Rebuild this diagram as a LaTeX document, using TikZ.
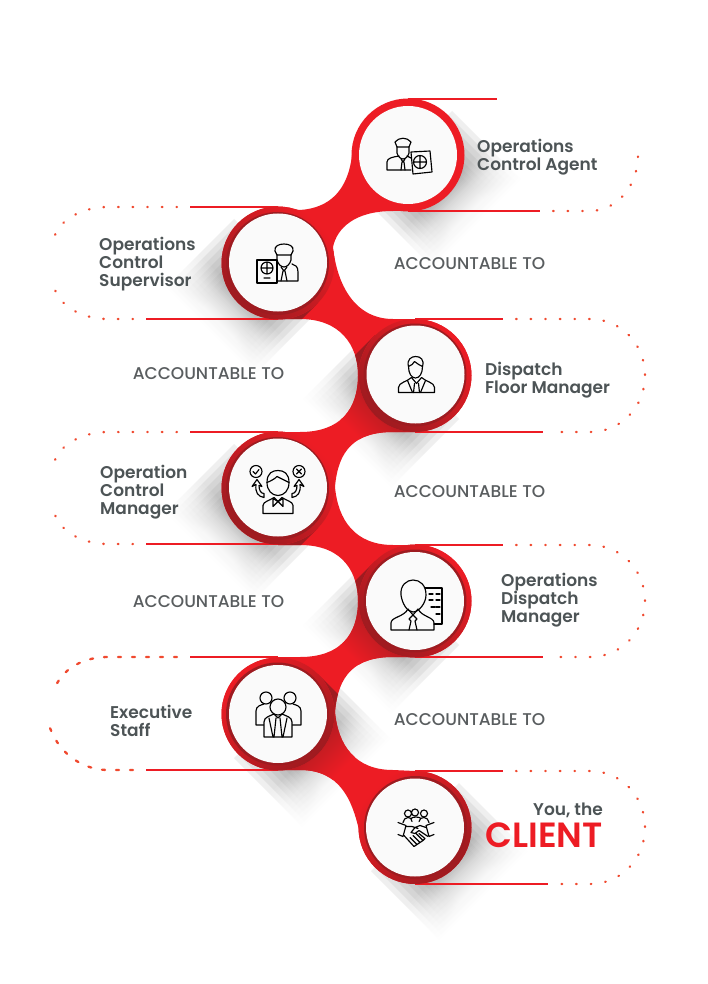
\documentclass[tikz,border=0pt]{standalone}
\usepackage{fontspec}
\setmainfont{Poppins}
\newfontfamily\labelfont{Poppins SemiBold}
\newfontfamily\bayfont{Poppins Medium}
\usetikzlibrary{calc}
\definecolor{RibbonRed}{HTML}{ED1C24}
\definecolor{RibbonDark}{HTML}{9E1B20}
\definecolor{DotRed}{HTML}{F0492F}
\definecolor{LabelGrey}{HTML}{4D5456}
\definecolor{BayGrey}{HTML}{595D5F}
\pgfdeclarehorizontalshading{ShadowStrip}{100bp}{color(0bp)=(black!48); color(50bp)=(black!48); color(57bp)=(black!20); color(66bp)=(white); color(100bp)=(white)}
\pgfdeclarehorizontalshading{DarkStrip}{100bp}{color(0bp)=(RibbonDark); color(44bp)=(RibbonDark); color(65bp)=(RibbonRed); color(100bp)=(RibbonRed)}
\tikzstyle{RingNode}=[circle, fill=RibbonRed, inner sep=0pt, minimum size=113pt]
\tikzstyle{DarkLeftRing}=[RingNode, shade, shading=axis, top color=RibbonRed, bottom color=RibbonDark, shading angle=-45]
\tikzstyle{DarkRightRing}=[RingNode, shade, shading=axis, top color=RibbonRed, bottom color=RibbonDark, shading angle=45]
\tikzstyle{CrescentNode}=[circle, fill=RibbonDark, inner sep=0pt, minimum size=103pt]
\tikzstyle{StationNode}=[circle, fill=black!2, inner sep=0pt, minimum size=98pt]
\tikzstyle{NameNode}=[anchor=west, align=left, inner sep=0pt, text=LabelGrey, font=\labelfont\fontsize{17}{18}\selectfont]
\tikzstyle{BayNode}=[inner sep=0pt, text=BayGrey, font=\bayfont\fontsize{17}{18}\selectfont]
\tikzstyle{RedRule}=[draw=RibbonRed, line width=1.9pt]
\tikzstyle{DotRule}=[draw=DotRed, line width=2.3pt, line cap=round, dash pattern=on 0.6pt off 14pt]
\tikzstyle{IconLine}=[draw=black, line width=1.15pt, line join=round, line cap=round]
\tikzstyle{ShadeLeft}=[shading=ShadowStrip, shading angle=225, opacity=.13]
\tikzstyle{ShadeRight}=[shading=ShadowStrip, shading angle=-45, opacity=.13]
\tikzstyle{DarkLeft}=[shading=DarkStrip, shading angle=225]
\tikzstyle{DarkRight}=[shading=DarkStrip, shading angle=-45]
\newcommand{\CastLeft}[2]{\begin{scope}[shift={(#1,#2)}]
\foreach \w in {44,40,36,32,28,24,20,16}
  \shade[ShadeLeft] (\w,\w) -- (-\w,-\w) -- ({-\w-68},{-\w+68}) -- ({\w-68},{\w+68}) -- cycle;
\end{scope}}
\newcommand{\CastRight}[2]{\begin{scope}[shift={(#1,#2)}]
\foreach \w in {44,40,36,32,28,24,20,16}
  \shade[ShadeRight] (-\w,\w) -- (\w,-\w) -- ({\w+68},{-\w+68}) -- ({-\w+68},{\w+68}) -- cycle;
\end{scope}}
\def\RibbonPath{(408,155) -- (408,211) -- (393,211) .. controls (355,211) and (337,228) .. (333,247)
 .. controls (337,285) and (355,319) .. (393,319) -- (415,319) -- (415,432) -- (393,432)
 .. controls (355,432) and (338,450) .. (335,487) .. controls (338,520) and (355,545) .. (393,545)
 -- (415,545) -- (415,657) -- (393,657) .. controls (355,657) and (338,675) .. (335,712)
 .. controls (338,745) and (355,770) .. (393,770) -- (415,771) -- (415,827) -- (359,830)
 .. controls (352,800) and (340,770) .. (300,770) -- (278,770) -- (278,657) -- (300,657)
 .. controls (340,657) and (358,635) .. (358,601) .. controls (358,575) and (345,545) .. (300,545)
 -- (278,545) -- (278,432) -- (300,432) .. controls (340,432) and (358,410) .. (358,375)
 .. controls (358,345) and (340,319) .. (300,319) -- (278,319) -- (278,207) -- (300,210)
 .. controls (330,208) and (348,190) .. (352,155) -- cycle}

\begin{document}
\begin{tikzpicture}[x=1pt, y=-1pt]
\useasboundingbox (0,0) rectangle (707,984);
\fill[white] (0,0) rectangle (707,984);

% shadows on the white
\CastRight{408}{155}
\CastLeft{278}{263}
\CastLeft{415}{375}
\CastLeft{278}{488}
\CastLeft{415}{601}
\CastRight{278}{714}
\CastRight{415}{827}

\fill[RibbonRed] \RibbonPath;
\begin{scope}
\clip \RibbonPath;
\shade[DarkLeft] (318,303) -- (238,223) -- (178,283) -- (258,363) -- cycle;
\shade[DarkLeft] (455,415) -- (375,335) -- (315,395) -- (395,475) -- cycle;
\shade[DarkLeft] (318,528) -- (238,448) -- (178,508) -- (258,588) -- cycle;
\shade[DarkLeft] (455,641) -- (375,561) -- (315,621) -- (395,701) -- cycle;
\shade[DarkRight] (318,674) -- (238,754) -- (298,814) -- (378,734) -- cycle;
\end{scope}

\coordinate(AgentHigh) at (497,99);
\coordinate(AgentLow) at (540,211);
\coordinate(SupervisorHigh) at (190,207);
\coordinate(SupervisorLow) at (146,319);
\coordinate(FloorHigh) at (503,319);
\coordinate(FloorLow) at (543,432);
\coordinate(ControlHigh) at (190,432);
\coordinate(ControlLow) at (146,544);
\coordinate(DispatchHigh) at (503,545);
\coordinate(DispatchLow) at (543,657);
\coordinate(StaffHigh) at (190,657);
\coordinate(StaffLow) at (146,770);
\coordinate(ClientHigh) at (503,771);
\coordinate(ClientLow) at (548,884);

\draw[RedRule](SupervisorHigh) -- (278,207);
\draw[RedRule](SupervisorLow) -- (278,319);
\draw[RedRule](ControlHigh) -- (278,432);
\draw[RedRule](ControlLow) -- (278,544);
\draw[RedRule](StaffHigh) -- (278,657);
\draw[RedRule](StaffLow) -- (278,770);
\draw[RedRule](408,99) -- (AgentHigh);
\draw[RedRule](408,211) -- (AgentLow);
\draw[RedRule](415,319) -- (FloorHigh);
\draw[RedRule](415,432) -- (FloorLow);
\draw[RedRule](415,545) -- (DispatchHigh);
\draw[RedRule](415,657) -- (DispatchLow);
\draw[RedRule](415,771) -- (ClientHigh);
\draw[RedRule](415,884) -- (ClientLow);

\node[RingNode](AgentRing) at (408,155) {};
\node[DarkLeftRing](SupervisorRing) at (278,263) {};
\node[DarkLeftRing](FloorRing) at (415,375.5) {};
\node[DarkLeftRing](ControlRing) at (278,488) {};
\node[DarkLeftRing](DispatchRing) at (415,601) {};
\node[DarkRightRing](StaffRing) at (278,714) {};
\node[DarkRightRing](ClientRing) at (415,827.5) {};

\node[CrescentNode](SupervisorCrescent) at (277.5,263.5) {};
\node[CrescentNode](FloorCrescent) at (415,375) {};
\node[CrescentNode](ControlCrescent) at (277.5,488.5) {};
\node[CrescentNode](DispatchCrescent) at (415,601) {};
\node[CrescentNode](StaffCrescent) at (277.5,714) {};
\node[CrescentNode](ClientCrescent) at (415.5,827.5) {};

\node[StationNode](Agent) at (408,155) {};
\node[StationNode](Supervisor) at (278,262.5) {};
\node[StationNode](Floor) at (415.5,374.5) {};
\node[StationNode](Control) at (278,487.5) {};
\node[StationNode](Dispatch) at (415,601) {};
\node[StationNode](Staff) at (278,714) {};
\node[StationNode](Client) at (415,827.5) {};

% dotted loops
\draw[DotRule](AgentLow) ++(13,0) -- (590,211) .. controls (616,211) and (638,187) .. (638,155);
\draw[DotRule](SupervisorHigh) ++(-13,0) -- (108,207) .. controls (84,207) and (62,218) .. (55,235);
\draw[DotRule](SupervisorLow) ++(-13,0) -- (108,319) .. controls (84,319) and (62,308) .. (55,290);
\draw[DotRule](FloorHigh) ++(13,0) -- (590,319) .. controls (621,319) and (645,344) .. (645,375.5) .. controls (645,407) and (621,432) .. (590,432) -- (556,432);
\draw[DotRule](ControlHigh) ++(-13,0) -- (108,432) .. controls (84,432) and (62,443) .. (55,460);
\draw[DotRule](ControlLow) ++(-13,0) -- (108,544) .. controls (84,544) and (62,533) .. (55,515);
\draw[DotRule](DispatchHigh) ++(13,0) -- (590,545) .. controls (621,545) and (645,570) .. (645,601) .. controls (645,632) and (621,657) .. (590,657) -- (556,657);
\draw[DotRule, dash pattern=on 3pt off 11pt](StaffHigh) ++(-13,0) -- (108,657) .. controls (84,657) and (62,668) .. (54,690);
\draw[DotRule, dash pattern=on 3pt off 11pt](StaffLow) ++(-13,0) -- (108,770) .. controls (84,770) and (60,755) .. (50,728);
\draw[DotRule](ClientHigh) ++(13,0) -- (590,771) .. controls (621,771) and (645,796) .. (645,827.5) .. controls (645,859) and (621,884) .. (590,884) -- (560,884);

\node[NameNode](AgentName) at (477,157) {Operations\\Control Agent};
\node[NameNode](SupervisorName) at (99,264) {Operations\\Control\\Supervisor};
\node[NameNode](FloorName) at (485,380) {Dispatch\\Floor Manager};
\node[NameNode](ControlName) at (100,492.5) {Operation\\Control\\Manager};
\node[NameNode](DispatchName) at (501,600) {Operations\\Dispatch\\Manager};
\node[NameNode](StaffName) at (110,721) {Executive\\Staff};
\node[NameNode, anchor=east, align=right](YouName) at (603,810) {You, the};
\node[NameNode, anchor=east, align=right, text=RibbonRed, font=\labelfont\fontsize{35}{36}\selectfont](ClientName) at (603,835) {CLIENT};

\node[BayNode](BayA) at (469.5,263.5) {ACCOUNTABLE TO};
\node[BayNode](BayB) at (208.5,373.5) {ACCOUNTABLE TO};
\node[BayNode](BayC) at (469.5,491.5) {ACCOUNTABLE TO};
\node[BayNode](BayD) at (208.5,601.5) {ACCOUNTABLE TO};
\node[BayNode](BayE) at (469.5,719.5) {ACCOUNTABLE TO};

% agent icon
\begin{scope}[shift={(408,155)}]
\draw[IconLine] (-13,-13) .. controls (-9,-18) and (-1,-18) .. (3,-13) -- (1,-8) -- (-11,-8) -- cycle;
\draw[IconLine] (-11,-8) -- (-11,-2) .. controls (-10,2) and (-7,4) .. (-5,4) .. controls (-3,4) and (0,2) .. (1,-2) -- (1,-8);
\draw[IconLine] (3,15) -- (-21,15) -- (-21,7) .. controls (-21,3) and (-15,2) .. (-9,1);
\draw[IconLine] (-1,1) -- (3,3);
\draw[IconLine] (-7,4) -- (-5,7) -- (-3,4) (-6,7) -- (-7,15) (-4,7) -- (-3,15);
\draw[IconLine, fill=black!2] (3,-3) -- (22,-4) -- (24,17) -- (5,19) -- cycle;
\draw[IconLine] (12,7) circle (6.5pt) (5.5,7) -- (18.5,7) (12,0.5) -- (12,13.5);
\end{scope}

% supervisor icon
\begin{scope}[shift={(278,263)}]
\draw[IconLine] (-3,-12) .. controls (-4,-17) and (1,-19) .. (6,-19) .. controls (11,-19) and (16,-17) .. (15,-12) -- (13,-8) -- (-1,-8) -- cycle;
\draw[IconLine] (-1,-8) -- (-1,-3) .. controls (0,1) and (3,4) .. (6,4) .. controls (9,4) and (12,1) .. (13,-3) -- (13,-8);
\draw[IconLine] (14,1) .. controls (17,2) and (20,3) .. (20,9) -- (20,18) -- (-1,18);
\draw[IconLine] (3,4) -- (6,8) -- (9,4) (5,8) -- (3,18) (7,8) -- (9,18);
\draw[IconLine, fill=black!2] (-21,-3) rectangle (-1,20);
\draw[IconLine] (-11,5) circle (6pt) (-17,5) -- (-5,5) (-11,-1) -- (-11,11) (-14,15) -- (-8,15);
\end{scope}

% floor manager icon
\begin{scope}[shift={(415.5,374.5)}]
\draw[IconLine] (-7,-8) .. controls (-9,-15) and (-4,-18) .. (0,-18) .. controls (5,-18) and (9,-15) .. (7,-8) .. controls (7,-1) and (4,3.5) .. (0,3.5) .. controls (-4,3.5) and (-7,-1) .. (-7,-8);
\draw[IconLine] (-7,-8) .. controls (-4,-9) and (-2,-11) .. (-1,-13) .. controls (2,-11) and (4,-9) .. (7,-8);
\draw[IconLine] (-17,18) -- (19,18) -- (19,13) .. controls (19,8) and (10,7) .. (6,3) -- (1,9) -- (-4,3) .. controls (-8,7) and (-17,8) .. (-17,13) -- cycle;
\draw[IconLine] (-1,9) -- (-2,18) (3,9) -- (4,18) (-8,6) -- (-3,18) (10,6) -- (5,18);
\end{scope}

% control manager icon
\begin{scope}[shift={(278,487.5)}]
\draw[IconLine] (-11,-5) .. controls (-11,-15) and (-5,-17) .. (0,-17) .. controls (6,-17) and (11,-14) .. (11,-5) .. controls (11,3) and (6,8) .. (0,8) .. controls (-6,8) and (-11,3) .. (-11,-5);
\draw[IconLine] (-11,-5) .. controls (-6,-7) and (-3,-9) .. (-1,-11) .. controls (3,-9) and (7,-7) .. (11,-5);
\draw[IconLine] (-15,26) -- (15,26) -- (15,18) .. controls (15,14) and (8,13) .. (4,10) -- (0,14) -- (-4,10) .. controls (-8,13) and (-15,14) .. (-15,18) -- cycle;
\draw[IconLine] (0,14) -- (-5,11) -- (-5,19) -- cycle (0,14) -- (5,11) -- (5,19) -- cycle;
\draw[IconLine] (-22,-16) circle (6pt) (-25,-16) -- (-22.5,-13.5) -- (-19,-18);
\draw[IconLine] (21,-16) circle (6pt) (18.5,-18.5) -- (23.5,-13.5) (18.5,-13.5) -- (23.5,-18.5);
\draw[IconLine] (-14,10) .. controls (-20,9) and (-23,5) .. (-22,-3) -- (-26,-1) -- (-21,-8) -- (-16,-1) -- (-19,-2) .. controls (-19,3) and (-17,6) .. (-14,6) -- cycle;
\draw[IconLine] (14,10) .. controls (20,9) and (23,5) .. (22,-3) -- (26,-1) -- (21,-8) -- (16,-1) -- (19,-2) .. controls (19,3) and (17,6) .. (14,6) -- cycle;
\end{scope}

% dispatch manager icon
\begin{scope}[shift={(415,601)}]
\draw[IconLine] (9,-13) -- (27,-13) -- (27,23) -- (19,23);
\draw[IconLine] (14,-7) -- (18,-7) (21,-7) -- (25,-7) (14,-1) -- (18,-1) (21,-1) -- (25,-1) (16,6) -- (20,6) (21,6) -- (25,6) (21,13) -- (25,13);
\draw[IconLine, fill=black!2] (-14,-6) .. controls (-15,-16) and (-8,-21) .. (-2,-21) .. controls (5,-21) and (11,-16) .. (11,-6) .. controls (11,2) and (4,11) .. (-2,11) .. controls (-8,11) and (-13,2) .. (-14,-6);
\draw[IconLine] (-24,29) -- (19,29) -- (19,22) .. controls (19,16) and (7,16) .. (3,8) -- (-2,14) -- (-7,8) .. controls (-11,16) and (-24,16) .. (-24,22) -- cycle;
\draw[IconLine] (-2,14) -- (-6,18) -- (-4,20) (-2,14) -- (2,18) -- (0,20) (-4,20) -- (-6,29) (0,20) -- (2,29);
\end{scope}

% staff icon
\begin{scope}[shift={(278,714)}]
\draw[IconLine] (-12,-16) circle (6pt) (12,-16) circle (6pt);
\draw[IconLine] (-11,11) -- (-22,11) -- (-22,-3) .. controls (-22,-8) and (-17,-9) .. (-14,-10);
\draw[IconLine] (11,11) -- (23,11) -- (23,-3) .. controls (23,-8) and (18,-9) .. (15,-10);
\draw[IconLine, fill=black!2] (0,-7) circle (8pt);
\draw[IconLine, fill=black!2] (-14,23) -- (14,23) -- (14,8) .. controls (14,3) and (8,2) .. (4,0) -- (0,4) -- (-4,0) .. controls (-8,2) and (-14,3) .. (-14,8) -- cycle;
\draw[IconLine] (-2,4) -- (-4,23) (2,4) -- (4,23) (-9,4) -- (-5,23) (9,4) -- (5,23);
\end{scope}

% client icon
\begin{scope}[shift={(415,827.5)}]
\draw[IconLine] (-7,-14) circle (3.5pt) (0,-15) circle (3.5pt) (9,-14) circle (3.5pt);
\draw[IconLine] (-12,-5) .. controls (-12,-8) and (-9,-10) .. (-7,-10) .. controls (-5,-10) and (-3,-9) .. (-3,-6);
\draw[IconLine] (-4,-9) .. controls (-2,-11) and (4,-11) .. (6,-9) (4,-6) .. controls (4,-9) and (7,-10) .. (9,-10) .. controls (11,-10) and (14,-8) .. (14,-5);
\draw[IconLine] (-17,-5) -- (-9,-2) -- (-12,9) -- (-17,7);
\draw[IconLine] (19,-5) -- (11,-2) -- (14,9) -- (19,7);
\draw[IconLine] (-9,-1) -- (-3,-1) -- (3,1) (11,0) -- (5,-2) -- (0,0) -- (-4,5) -- (0,6) -- (4,3) -- (13,9);
\draw[IconLine] (-11,8) -- (-1,19) -- (2,17) -- (-5,10) (2,17) -- (5,15) -- (-2,8) (5,15) -- (8,13) -- (1,6) (8,13) -- (10,11) -- (4,6);
\end{scope}
\end{tikzpicture}
\end{document}
